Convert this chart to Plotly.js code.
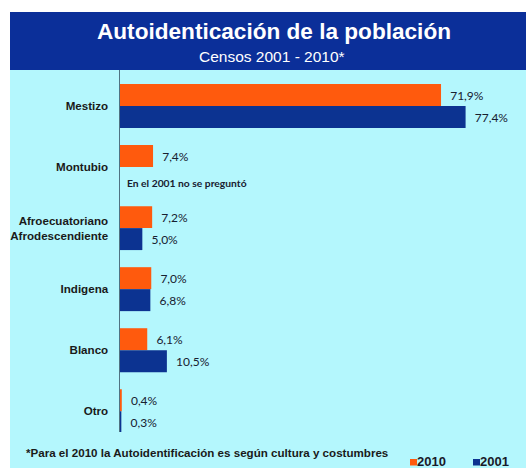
<!DOCTYPE html>
<html>
<head>
<meta charset="utf-8">
<script src="https://cdn.plot.ly/plotly-3.0.1.min.js"></script>
<style>html,body{margin:0;padding:0;background:#fff;}#chart{width:526px;height:468px;}</style>
</head>
<body>
<div id="chart"></div>
<script>
const categories = ['Mestizo', 'Montubio', 'Afroecuatoriano<br>Afrodescendiente', 'Indigena', 'Blanco', 'Otro'];
const values2010 = [71.9, 7.4, 7.2, 7.0, 6.1, 0.4];
const values2001 = [77.4, null, 5.0, 6.8, 10.5, 0.3];
const seriesNames = ['2010', '2001'];
const noDataNote = 'En el 2001 no se preguntó';
const titleText = 'Autoidenticación de la población';
const subtitleText = 'Censos 2001 - 2010*';
const footnoteText = '*Para el 2010 la Autoidentificación es según cultura y costumbres';

const W = 526, H = 468;
const M = {l: 120, r: 6, t: 70, b: 36};
const PW = W - M.l - M.r, PH = H - M.t - M.b;
const px2x = px => (px - M.l) / PW;
const py2y = py => (H - M.b - py) / PH;

const fmt = v => v == null ? '' : '\u00a0\u00a0' + v.toFixed(1).replace('.', ',') + '%';

const ORANGE = '#FF5A0D', BLUE = '#0C3391', HEADER = '#0B2F99', CYAN = '#B4F7FD';
const SERIES_COLORS = [ORANGE, BLUE];
const labelFont = {family: 'Lato, sans-serif', size: 12, color: '#172030'};
const arialBold = (size, color) => ({family: 'Liberation Sans, Arial, sans-serif', size: size, color: color, weight: 'bold'});

const traces = [
  {type: 'bar', orientation: 'h', name: seriesNames[0], y: categories, x: values2010,
   marker: {color: SERIES_COLORS[0]}, text: values2010.map(fmt), textposition: 'outside',
   textfont: labelFont, cliponaxis: false, hoverinfo: 'x+y'},
  {type: 'bar', orientation: 'h', name: seriesNames[1], y: categories, x: values2001,
   marker: {color: SERIES_COLORS[1]}, text: values2001.map(fmt), textposition: 'outside',
   textfont: labelFont, cliponaxis: false, hoverinfo: 'x+y'}
];

// legend drawn as small swatches + labels (bottom right)
const legendX = [410, 473];
const legendShapes = seriesNames.map((n, i) => ({
  type: 'rect', xref: 'paper', yref: 'paper', x0: px2x(legendX[i]), x1: px2x(legendX[i] + 7),
  y0: py2y(465.5), y1: py2y(459), fillcolor: SERIES_COLORS[i], line: {width: 0}
}));
const legendTexts = seriesNames.map((n, i) => ({
  text: n, xref: 'paper', yref: 'paper', x: px2x(legendX[i] + 5), y: py2y(461), xanchor: 'left', yanchor: 'middle',
  showarrow: false, font: arialBold(13, '#1a1a2a')
}));

const layout = {
  width: W, height: H,
  margin: M,
  paper_bgcolor: '#ffffff',
  plot_bgcolor: 'rgba(0,0,0,0)',
  barmode: 'group',
  bargap: 0.28,
  bargroupgap: 0,
  title: {text: titleText, font: arialBold(22.6, '#ffffff'),
          xref: 'container', x: 274 / W, xanchor: 'center', yref: 'container', y: 1 - 31 / H, yanchor: 'middle'},
  xaxis: {range: [0, PW / 4.465], showgrid: false, zeroline: false, showticklabels: false, ticks: '', showline: false, fixedrange: true},
  yaxis: {type: 'category', categoryorder: 'array', categoryarray: categories, range: [5.34, -0.59],
          showgrid: false, zeroline: false, ticks: '', showline: true, linecolor: '#4f7282', linewidth: 1.5,
          ticklabelstandoff: 8,
          tickfont: arialBold(11.6, '#1a1a1a')},
  showlegend: false,
  shapes: [
    {type: 'rect', xref: 'paper', yref: 'paper', x0: px2x(10), x1: px2x(W + 2), y0: py2y(H + 2), y1: 1,
     fillcolor: CYAN, line: {width: 0}, layer: 'below'},
    {type: 'rect', xref: 'paper', yref: 'paper', x0: px2x(10), x1: px2x(W + 2), y0: 1, y1: py2y(12),
     fillcolor: HEADER, line: {width: 0}, layer: 'below'}
  ].concat(legendShapes),
  annotations: [
    {text: subtitleText, xref: 'paper', yref: 'paper', x: px2x(272), y: py2y(56.5), xanchor: 'center', yanchor: 'middle',
     showarrow: false, font: {family: 'Liberation Sans, Arial, sans-serif', size: 15.5, color: '#ffffff'}},
    {text: noDataNote, xref: 'x', yref: 'y', x: 0, y: categories[1], xanchor: 'left', yanchor: 'middle',
     xshift: 5, yshift: -16, showarrow: false, font: {family: 'Lato, sans-serif', size: 10.3, color: '#172030', weight: 'bold'}},
    {text: footnoteText, xref: 'paper', yref: 'paper', x: px2x(24), y: py2y(452), xanchor: 'left', yanchor: 'middle',
     showarrow: false, font: arialBold(11.6, '#1a1a1a')}
  ].concat(legendTexts)
};

Plotly.newPlot('chart', traces, layout, {displayModeBar: false, staticPlot: true});
</script>
</body>
</html>
